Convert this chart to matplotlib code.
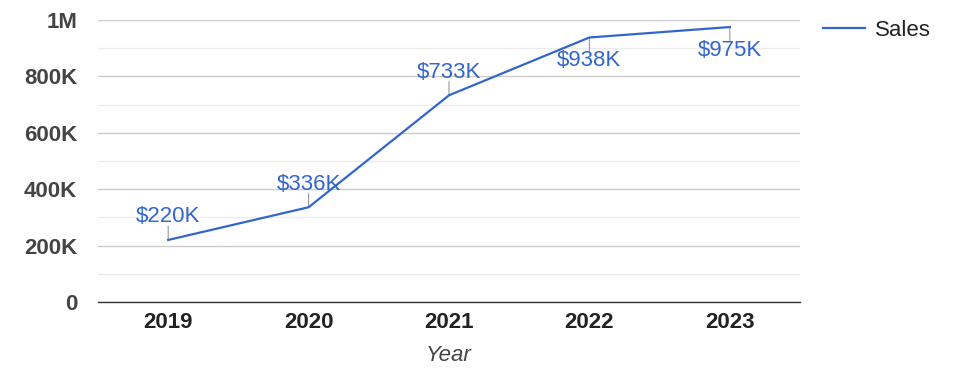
import matplotlib.pyplot as plt
from matplotlib.ticker import FuncFormatter, MultipleLocator

years = ["2019", "2020", "2021", "2022", "2023"]
sales = [220000, 336000, 733000, 938000, 975000]
label_pos = ["above", "above", "above", "below", "below"]

BLUE = "#3366cc"
FS = 16
plt.rcParams["font.family"] = ["Liberation Sans", "DejaVu Sans"]

fig = plt.figure(figsize=(9.75, 3.78), dpi=100)
ax = fig.add_axes([98 / 975, 1 - 302 / 378, 702 / 975, 282 / 378])

x = list(range(len(years)))
line, = ax.plot(x, sales, color=BLUE, linewidth=1.6, label="Sales", zorder=3)

for xi, v, pos in zip(x, sales, label_pos):
    sign = 1 if pos == "above" else -1
    stem = 10 * sign
    ax.annotate("", xy=(xi, v), xytext=(0, stem), textcoords="offset points",
                arrowprops=dict(arrowstyle="-", color="#999999", lw=0.8,
                                shrinkA=0, shrinkB=0), zorder=2)
    ax.annotate(f"${v / 1000:.0f}K", xy=(xi, v), xytext=(0, sign * 9),
                textcoords="offset points", ha="center",
                va="bottom" if sign > 0 else "top",
                color=BLUE, fontsize=FS, zorder=4)

ax.set_xlim(-0.5, len(years) - 0.5)
ax.set_ylim(0, 1000000)
ax.set_xticks(x)
ax.set_xticklabels(years, fontweight="bold", fontsize=FS, color="#222222")
ax.yaxis.set_major_locator(MultipleLocator(200000))
ax.yaxis.set_minor_locator(MultipleLocator(100000))


def fmt(v, _):
    if v == 0:
        return "0"
    if v >= 1000000:
        return f"{v / 1000000:.0f}M"
    return f"{v / 1000:.0f}K"


ax.yaxis.set_major_formatter(FuncFormatter(fmt))
for lbl in ax.get_yticklabels():
    lbl.set_fontweight("bold")
    lbl.set_fontsize(FS)
    lbl.set_color("#444444")

ax.grid(axis="y", which="major", color="#cccccc", linewidth=1)
ax.grid(axis="y", which="minor", color="#ebebeb", linewidth=1)
ax.set_axisbelow(True)
ax.tick_params(axis="both", which="both", length=0)
ax.tick_params(axis="y", pad=15)
ax.tick_params(axis="x", pad=7)
for side in ["top", "right", "left"]:
    ax.spines[side].set_visible(False)
ax.spines["bottom"].set_color("#333333")
ax.spines["bottom"].set_linewidth(1)

ax.set_xlabel("Year", fontstyle="italic", fontsize=FS, color="#444444", labelpad=9)

fig.legend(handles=[line], loc="center left", bbox_to_anchor=(803 / 975, 1 - 30 / 378),
           frameon=False, fontsize=FS, handlelength=1.9, handletextpad=0.45,
           labelcolor="#222222")

fig.savefig("out.png", dpi=100)
